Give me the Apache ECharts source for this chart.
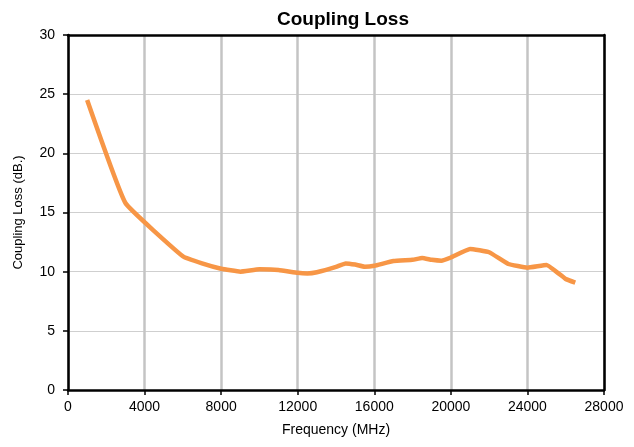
<!DOCTYPE html>
<html><head><meta charset="utf-8">
<script src="https://cdn.jsdelivr.net/npm/echarts@6/dist/echarts.min.js"></script>
<style>html,body{margin:0;padding:0;background:#fff}#c{width:634px;height:447px}</style>
</head><body><div id="c"></div>
<script>
var frequencies = [1000, 3000, 6000, 7000, 8000, 9000, 10000, 11000, 12000, 12500, 13000, 14000, 14500, 15000, 15500, 16000, 17000, 18000, 18500, 19000, 19500, 20000, 21000, 22000, 23000, 24000, 25000, 26000, 26500];
var couplingLoss = [24.5, 15.8, 11.3, 10.7, 10.25, 10.0, 10.2, 10.15, 9.9, 9.85, 9.95, 10.4, 10.7, 10.6, 10.42, 10.5, 10.9, 11.0, 11.15, 11.0, 10.93, 11.2, 11.92, 11.64, 10.65, 10.34, 10.57, 9.38, 9.07];
var chartTitle = 'Coupling Loss';
var xName = 'Frequency (MHz)';
var yName = 'Coupling Loss (dB.)';

var font = 'Liberation Sans, Arial, sans-serif';
var chart = echarts.init(document.getElementById('c'));
var frameAxis = {show: true, axisLine: {show: true, onZero: false, lineStyle: {color: '#000', width: 2.5}},
  axisTick: {show: false}, axisLabel: {show: false}, splitLine: {show: false}};
chart.setOption({
  animation: false,
  title: {text: chartTitle, left: 338, top: 5, textAlign: 'center',
    textStyle: {fontFamily: font, fontSize: 19, fontWeight: 'bold', color: '#000'}},
  grid: {left: 68, right: 30, top: 35, bottom: 57},
  xAxis: [{type: 'value', min: 0, max: 28000, interval: 4000,
    name: xName, nameLocation: 'middle', nameGap: 33,
    nameTextStyle: {fontFamily: font, fontSize: 14, color: '#000'},
    axisLine: {onZero: false, lineStyle: {color: '#000', width: 2.5}},
    axisTick: {show: true, length: 5, lineStyle: {color: '#000', width: 1.5}},
    axisLabel: {fontFamily: font, fontSize: 14, color: '#000', margin: 10,
      formatter: function(v){return String(v);}},
    splitLine: {show: true, lineStyle: {color: '#c4c4c4', width: 2.5}}},
    Object.assign({type: 'value', position: 'top', min: 0, max: 28000, interval: 4000}, frameAxis)],
  yAxis: [{type: 'value', min: 0, max: 30, interval: 5,
    name: yName, nameLocation: 'middle', nameGap: 43,
    nameTextStyle: {fontFamily: font, fontSize: 13, color: '#000'},
    axisLine: {onZero: false, lineStyle: {color: '#000', width: 2.5}},
    axisTick: {show: true, length: 5, lineStyle: {color: '#000', width: 1.5}},
    axisLabel: {fontFamily: font, fontSize: 14, color: '#000', margin: 13},
    splitLine: {show: true, lineStyle: {color: '#cfcfcf', width: 1.2}}},
    Object.assign({type: 'value', position: 'right', min: 0, max: 30, interval: 5}, frameAxis)],
  series: [{type: 'line', data: frequencies.map(function(f, i){return [f, couplingLoss[i]];}),
    showSymbol: false, smooth: 0.1, z: 3, lineStyle: {color: '#f79646', width: 4.5}, itemStyle: {color: '#f79646'}}]
});
</script></body></html>
